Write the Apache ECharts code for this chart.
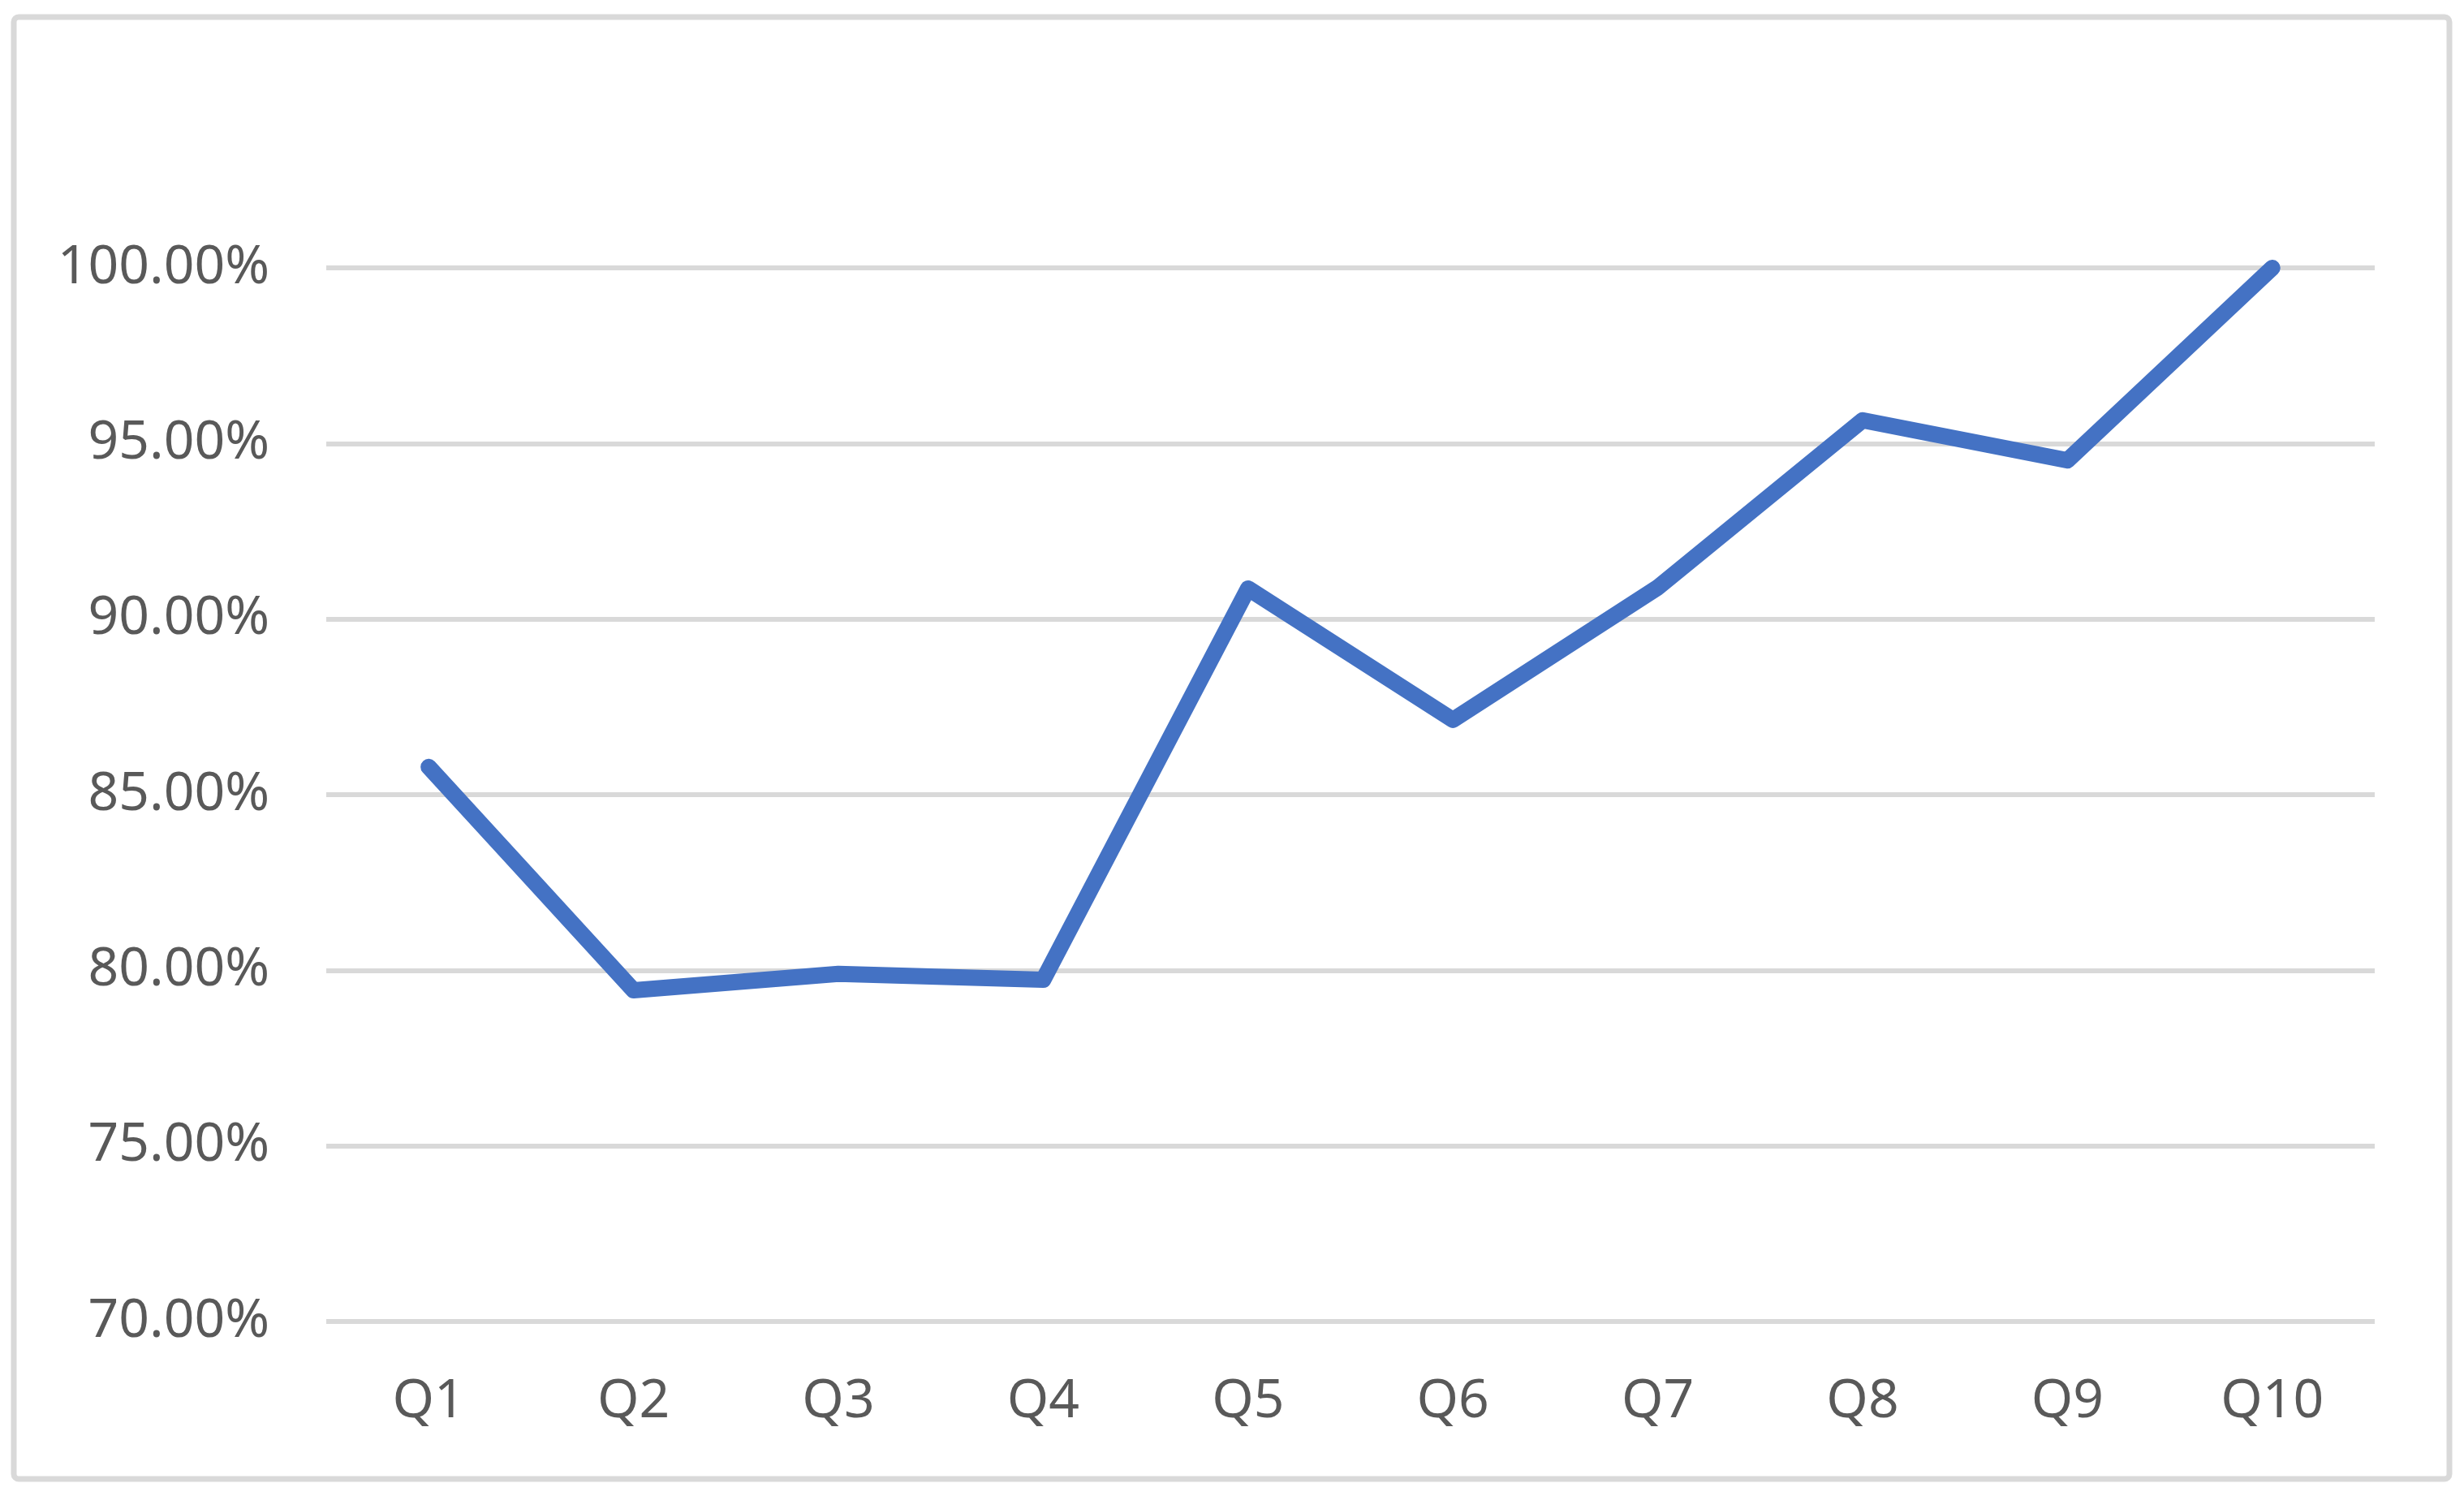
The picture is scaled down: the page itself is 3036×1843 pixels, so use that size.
<!DOCTYPE html>
<html>
<head>
<meta charset="utf-8">
<script src="https://cdn.jsdelivr.net/npm/echarts@6/dist/echarts.min.js"></script>
<style>
  html, body { margin: 0; padding: 0; background: #ffffff; }
  #chart { width: 3036px; height: 1843px; }
</style>
</head>
<body>
<div id="chart"></div>
<script>
const categories = ['Q1', 'Q2', 'Q3', 'Q4', 'Q5', 'Q6', 'Q7', 'Q8', 'Q9', 'Q10'];
const values = [85.79, 79.43, 79.90, 79.73, 90.87, 87.13, 90.90, 95.66, 94.52, 100.00];
const yMin = 70, yMax = 100, yStep = 5;

const chart = echarts.init(document.getElementById('chart'), null, { renderer: 'canvas' });
const font = '"Noto Sans", "Open Sans", sans-serif';
chart.setOption({
  animation: false,
  backgroundColor: '#ffffff',
  graphic: [{
    type: 'rect',
    shape: { x: 17, y: 21, width: 3001, height: 1801, r: 6 },
    style: { fill: 'none', stroke: '#d9d9d9', lineWidth: 7 },
    silent: true
  }],
  grid: { left: 402, right: 110, top: 330, bottom: 215, containLabel: false },
  xAxis: {
    type: 'category',
    data: categories,
    boundaryGap: true,
    axisLine: { show: false },
    axisTick: { show: false },
    axisLabel: { color: '#595959', fontSize: 66, fontFamily: font, margin: 66 },
    splitLine: { show: false }
  },
  yAxis: {
    type: 'value',
    min: yMin, max: yMax, interval: yStep,
    axisLine: { show: false },
    axisTick: { show: false },
    axisLabel: {
      color: '#595959', fontSize: 66, fontFamily: font, margin: 70,
      formatter: v => v.toFixed(2) + '%'
    },
    splitLine: { show: true, lineStyle: { color: '#d9d9d9', width: 6 } }
  },
  series: [{
    type: 'line',
    data: values,
    symbol: 'none',
    clip: true,
    lineStyle: { color: '#4472c4', width: 20, cap: 'round', join: 'round' },
    itemStyle: { color: '#4472c4' }
  }]
});
</script>
</body>
</html>
